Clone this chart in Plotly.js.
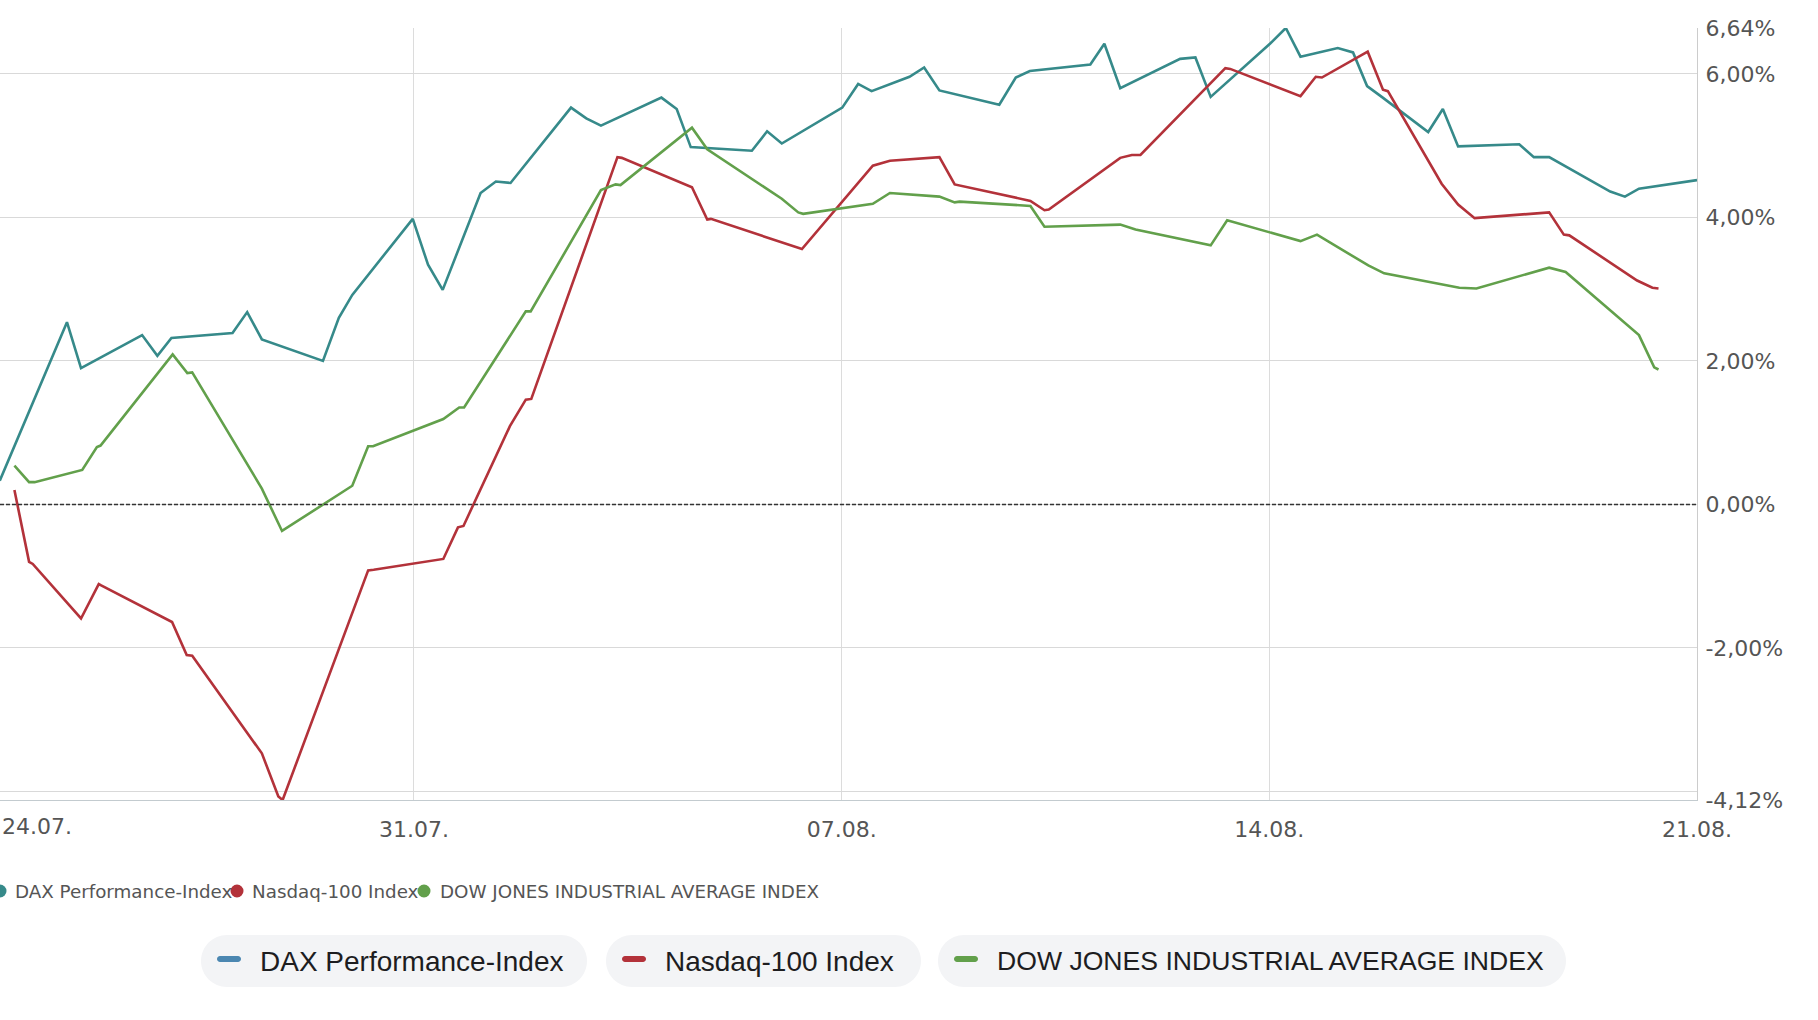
<!DOCTYPE html>
<html>
<head>
<meta charset="utf-8">
<script src="https://cdn.plot.ly/plotly-3.0.1.min.js"></script>
<style>
    html, body { margin: 0; padding: 0; background: #fff; }
    #chart { width: 1818px; height: 1020px; }
</style>
</head>
<body>
<div id="chart"></div>
<script>
// days counted from 24.07. 00:00, values in % performance
const daxDays = [0.22, 1.05, 1.32, 1.55, 2.55, 2.80, 3.03, 4.03, 4.27, 4.51, 5.51, 5.77, 5.99, 6.98, 7.23, 7.47,
    8.09, 8.34, 8.58, 9.57, 9.82, 10.06, 11.05, 11.30, 11.53, 12.53, 12.78, 13.02, 14.01, 14.27, 14.49, 15.11,
    15.35, 15.60, 16.58, 16.85, 17.08, 18.07, 18.30, 18.56, 19.54, 19.79, 20.04, 21.01, 21.27, 21.51, 22.12,
    22.37, 22.60, 22.84, 23.60, 23.84, 24.09, 25.09, 25.33, 25.58, 26.58, 26.82, 27.05, 28.0]
const daxPct = [0.33, 2.01, 2.54, 1.90, 2.36, 2.07, 2.32, 2.39, 2.68, 2.30, 2.00, 2.60, 2.92, 3.98, 3.34, 2.99,
    4.34, 4.50, 4.48, 5.53, 5.38, 5.28, 5.67, 5.51, 4.98, 4.93, 5.20, 5.03, 5.53, 5.86, 5.76, 5.96,
    6.09, 5.77, 5.57, 5.95, 6.04, 6.13, 6.42, 5.80, 6.21, 6.23, 5.68, 6.42, 6.64, 6.24, 6.36,
    6.30, 5.83, 5.68, 5.19, 5.51, 4.99, 5.02, 4.84, 4.84, 4.36, 4.29, 4.40, 4.52]

const ndxDays = [0.46, 0.70, 0.76, 1.55, 1.84, 1.88, 3.04, 3.28, 3.37, 4.51, 4.78, 4.85, 6.25, 6.34, 7.48, 7.72,
    7.81, 8.57, 8.83, 8.92, 10.33, 10.40, 11.55, 11.80, 11.86, 13.35, 14.51, 14.79, 15.60, 15.85, 17.09, 17.32,
    17.39, 18.56, 18.75, 18.89, 20.28, 20.36, 21.51, 21.76, 21.86, 22.61, 22.86, 22.94, 23.82, 24.09, 24.36,
    25.58, 25.82, 25.91, 27.02, 27.27, 27.37]
const ndxPct = [0.20, -0.80, -0.83, -1.59, -1.11, -1.13, -1.64, -2.10, -2.11, -3.47, -4.07, -4.12, -0.92, -0.91, -0.76, -0.32,
    -0.30, 1.09, 1.46, 1.47, 4.84, 4.83, 4.42, 3.97, 3.98, 3.56, 4.72, 4.79, 4.84, 4.46, 4.23, 4.10,
    4.11, 4.83, 4.87, 4.87, 6.08, 6.07, 5.69, 5.96, 5.95, 6.31, 5.78, 5.76, 4.47, 4.18, 3.99,
    4.07, 3.76, 3.75, 3.12, 3.02, 3.01]

const dowDays = [0.46, 0.70, 0.79, 1.57, 1.81, 1.87, 3.05, 3.29, 3.37, 4.51, 4.84, 5.99, 6.25, 6.33, 7.48, 7.74,
    7.82, 8.83, 8.91, 10.06, 10.30, 10.38, 11.55, 11.80, 13.02, 13.29, 13.37, 14.51, 14.79, 15.60, 15.85, 15.93,
    17.09, 17.32, 18.56, 18.81, 20.04, 20.31, 21.51, 21.78, 22.62, 22.88, 24.11, 24.39, 25.58, 25.85,
    27.05, 27.30, 27.37]
const dowPct = [0.54, 0.31, 0.31, 0.48, 0.80, 0.82, 2.09, 1.83, 1.84, 0.22, -0.37, 0.26, 0.81, 0.81, 1.19, 1.35,
    1.35, 2.69, 2.69, 4.38, 4.46, 4.45, 5.25, 4.95, 4.26, 4.07, 4.05, 4.19, 4.34, 4.29, 4.21, 4.22,
    4.16, 3.87, 3.90, 3.83, 3.61, 3.96, 3.67, 3.76, 3.33, 3.22, 3.02, 3.01, 3.30, 3.24,
    2.36, 1.91, 1.88]

const seriesNames = ['DAX Performance-Index', 'Nasdaq-100 Index', 'DOW JONES INDUSTRIAL AVERAGE INDEX']
const lineColors = ['#368a8a', '#b3323a', '#62a04b']
const pillColors = ['#4b87b1', '#b3323a', '#62a04b']

const firstDayLabel = '24.07.'
const weekTicks = [7, 14, 21, 28]
const weekLabels = ['31.07.', '07.08.', '14.08.', '21.08.']
const pctTicks = [6.64, 6, 4, 2, 0, -2, -4, -4.12]
const pctLabels = ['6,64%', '6,00%', '4,00%', '2,00%', '0,00%', '-2,00%', '', '-4,12%']

window.addEventListener('DOMContentLoaded', () => {
    plotPerformance()
})

// plot area in page pixels: x 0..1697, y 28..800
const PW = 1697, PT = 28, PB = 800
function px(x) { return x / PW }
function py(y) { return (PB - y) / (PB - PT) }

function pillPath(x0, y0, x1, y1) {
    const r = (y1 - y0) / 2
    const k = 0.5523 * r
    const p = (x, y) => px(x).toFixed(5) + ',' + py(y).toFixed(5)
    return 'M' + p(x0 + r, y0) + ' L' + p(x1 - r, y0) +
        ' C' + p(x1 - r + k, y0) + ' ' + p(x1, y0 + r - k) + ' ' + p(x1, y0 + r) +
        ' C' + p(x1, y0 + r + k) + ' ' + p(x1 - r + k, y1) + ' ' + p(x1 - r, y1) +
        ' L' + p(x0 + r, y1) +
        ' C' + p(x0 + r - k, y1) + ' ' + p(x0, y1 - r + k) + ' ' + p(x0, y1 - r) +
        ' C' + p(x0, y1 - r - k) + ' ' + p(x0 + r - k, y0) + ' ' + p(x0 + r, y0) + ' Z'
}

function plotPerformance() {
    let target = document.getElementById('chart')
    const xs = [daxDays, ndxDays, dowDays]
    const ys = [daxPct, ndxPct, dowPct]

    const data = xs.map((x, i) => ({
        type: 'scatter',
        mode: 'lines',
        x: x,
        y: ys[i],
        name: seriesNames[i],
        line: {color: lineColors[i], width: 2.6},
        hoverinfo: 'skip',
        showlegend: false
    }))

    // dashed zero line, drawn over the grid
    const shapes = [{
        type: 'line', xref: 'paper', yref: 'y', x0: 0, x1: 1, y0: 0, y1: 0,
        layer: 'above',
        line: {color: '#333', width: 1.5, dash: '4px,2px'}
    }]
    const annotations = [{
        text: firstDayLabel, showarrow: false, xref: 'paper', yref: 'paper',
        x: 0, y: py(827), xanchor: 'left', yanchor: 'middle',
        font: {family: 'DejaVu Sans', size: 22, color: '#555'}
    }]

    // small legend row with dots
    const dotX = [0, 237, 424]
    const textX = [13, 250, 438]
    dotX.forEach((cx, i) => {
        shapes.push({
            type: 'circle', xref: 'paper', yref: 'paper',
            x0: px(cx - 6.5), x1: px(cx + 6.5), y0: py(891 + 6.5), y1: py(891 - 6.5),
            fillcolor: lineColors[i], line: {width: 0}
        })
        annotations.push({
            text: seriesNames[i], showarrow: false, xref: 'paper', yref: 'paper',
            x: px(textX[i]), y: py(891), xanchor: 'left', yanchor: 'middle',
            font: {family: 'DejaVu Sans', size: 18.3, color: '#555'}
        })
    })

    // pill legend
    const pills = [[201, 587], [606, 921], [938, 1566]]
    const pillFont = [28, 28, 26.6]
    pills.forEach((p, i) => {
        shapes.push({
            type: 'path', xref: 'paper', yref: 'paper', path: pillPath(p[0], 935, p[1], 987),
            fillcolor: '#f3f4f6', line: {width: 0}
        })
        shapes.push({
            type: 'path', xref: 'paper', yref: 'paper', path: pillPath(p[0] + 16, 956, p[0] + 40, 962),
            fillcolor: pillColors[i], line: {width: 0}
        })
        annotations.push({
            text: seriesNames[i], showarrow: false, xref: 'paper', yref: 'paper',
            x: px(p[0] + 57), y: py(961), xanchor: 'left', yanchor: 'middle',
            font: {family: 'Liberation Sans, Arial, sans-serif', size: pillFont[i], color: '#1d1d1f'}
        })
    })

    const layout = {
        width: 1818,
        height: 1020,
        margin: {l: 0, r: 1818 - PW, t: PT, b: 1020 - PB},
        paper_bgcolor: '#fff',
        plot_bgcolor: '#fff',
        showlegend: false,
        xaxis: {
            range: [0.224, 28],
            tickvals: weekTicks,
            ticktext: weekLabels,
            showgrid: true,
            gridcolor: '#dcdcdc',
            showline: true,
            linecolor: '#c3cbcf',
            zeroline: false,
            ticks: '',
            ticklabelstandoff: 10,
            tickfont: {family: 'DejaVu Sans', size: 22, color: '#555'}
        },
        yaxis: {
            side: 'right',
            range: [-4.12, 6.64],
            tickvals: pctTicks,
            ticktext: pctLabels,
            showgrid: true,
            gridcolor: '#d9d9d9',
            showline: true,
            linecolor: '#cccccc',
            zeroline: false,
            ticks: '',
            ticklabelstandoff: 3,
            tickfont: {family: 'DejaVu Sans', size: 22, color: '#555'}
        },
        shapes: shapes,
        annotations: annotations
    }
    const config = {staticPlot: true, displayModeBar: false}

    Plotly.newPlot(target, data, layout, config)
}
</script>
</body>
</html>
